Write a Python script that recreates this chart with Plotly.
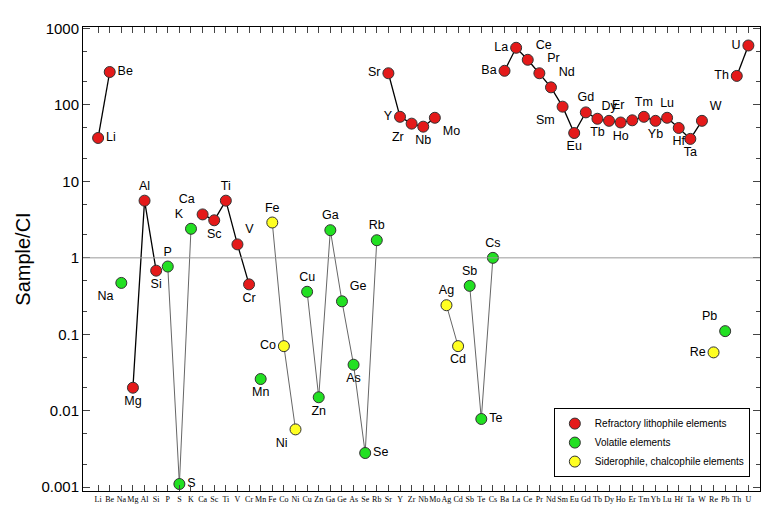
import plotly.graph_objects as go

elements = ["Li","Be","Na","Mg","Al","Si","P","S","K","Ca","Sc","Ti","V","Cr","Mn","Fe","Co","Ni","Cu","Zn",
            "Ga","Ge","As","Se","Rb","Sr","Y","Zr","Nb","Mo","Ag","Cd","Sb","Te","Cs","Ba","La","Ce","Pr","Nd",
            "Sm","Eu","Gd","Tb","Dy","Ho","Er","Tm","Yb","Lu","Hf","Ta","W","Re","Pb","Th","U"]
values = [37,270,0.47,0.02,5.6,0.68,0.77,0.0011,2.4,3.7,3.1,5.6,1.5,0.45,0.026,2.9,0.07,0.0057,0.36,0.015,
          2.3,0.27,0.04,0.0028,1.7,260,70,57,52,68,0.24,0.07,0.43,0.0078,1.0,280,560,390,260,170,
          95,43,80,66,62,59,63,70,62,68,50,36,62,0.058,0.11,240,600]
groups = ["R","R","V","R","R","R","V","V","V","R","R","R","R","R","V","S","S","S","V","V",
          "V","V","V","V","V","R","R","R","R","R","S","S","V","V","V","R","R","R","R","R",
          "R","R","R","R","R","R","R","R","R","R","R","R","R","S","V","R","R"]
red_chains = [["Li","Be"],["Mg","Al","Si"],["Ca","Sc","Ti","V","Cr"],["Sr","Y","Zr","Nb","Mo"],
              ["Ba","La","Ce","Pr","Nd","Sm","Eu","Gd","Tb","Dy","Ho","Er","Tm","Yb","Lu","Hf","Ta","W"],["Th","U"]]
gray_chains = [["P","S","K"],["Fe","Co","Ni"],["Cu","Zn","Ga","Ge","As","Se","Rb"],["Ag","Cd"],["Sb","Te","Cs"]]
label_pos = {"Li":"middle right","Be":"middle right","Na":"bottom left","Mg":"bottom center","Al":"top center",
 "Si":"bottom center","P":"top center","S":"middle right","K":"top left","Ca":"top left","Sc":"bottom center",
 "Ti":"top center","V":"top right","Cr":"bottom center","Mn":"bottom center","Fe":"top center","Co":"middle left",
 "Ni":"bottom left","Cu":"top center","Zn":"bottom center","Ga":"top center","Ge":"top right","As":"bottom center",
 "Se":"middle right","Rb":"top center","Sr":"middle left","Y":"middle left","Zr":"bottom left","Nb":"bottom center",
 "Mo":"bottom right","Ag":"top center","Cd":"bottom center","Sb":"top center","Te":"middle right","Cs":"top center",
 "Ba":"middle left","La":"middle left","Ce":"top right","Pr":"top right","Nd":"top right","Sm":"bottom left",
 "Eu":"bottom center","Gd":"top center","Tb":"bottom center","Dy":"top center","Ho":"bottom center","Er":"top left",
 "Tm":"top center","Yb":"bottom center","Lu":"top center","Hf":"bottom center","Ta":"bottom center","W":"top right",
 "Re":"middle left","Pb":"top left","Th":"middle left","U":"middle left"}

idx = {e: i for i, e in enumerate(elements)}
fig = go.Figure()
for chains, col, w in [(gray_chains, "#666666", 1), (red_chains, "black", 1.3)]:
    for ch in chains:
        fig.add_trace(go.Scatter(x=[idx[e] for e in ch], y=[values[idx[e]] for e in ch], mode="lines",
                                 line=dict(color=col, width=w), showlegend=False, hoverinfo="skip"))
names = {"R": ("Refractory lithophile elements", "#e41a1a"),
         "V": ("Volatile elements", "#22e022"),
         "S": ("Siderophile, chalcophile elements", "#ffff22")}
for g, (nm, col) in names.items():
    sel = [i for i, gg in enumerate(groups) if gg == g]
    fig.add_trace(go.Scatter(x=sel, y=[values[i] for i in sel], mode="markers+text", cliponaxis=False,
                             text=[elements[i] for i in sel], textposition=[label_pos[elements[i]] for i in sel],
                             textfont=dict(size=12.5, color="black", family="Arial"),
                             marker=dict(size=11, color=col, line=dict(color="#333333", width=1)), name=nm))
fig.add_hline(y=1, line=dict(color="#999999", width=1))
fig.update_layout(width=780, height=514, margin=dict(l=75, r=28, t=12, b=31), plot_bgcolor="white",
                  paper_bgcolor="white", font=dict(family="Arial", color="black"),
                  legend=dict(x=0.985, y=0.03, xanchor="right", yanchor="bottom", bordercolor="black",
                              borderwidth=1, font=dict(size=10), bgcolor="white", tracegroupgap=0))
fig.update_xaxes(range=[-1.3, 57], tickmode="array", tickvals=list(range(len(elements))), ticktext=elements,
                 tickfont=dict(size=8, family="Liberation Serif"), showline=True, mirror="ticks", linecolor="black",
                 ticks="inside", ticklen=6, showgrid=False, tickangle=0)
fig.update_yaxes(type="log", range=[-3.05, 3.02], tickvals=[0.001, 0.01, 0.1, 1, 10, 100, 1000],
                 ticktext=["0.001", "0.01", "0.1", "1", "10", "100", "1000"], tickfont=dict(size=15),
                 title=dict(text="Sample/CI", font=dict(size=20), standoff=5), showline=True, mirror="ticks",
                 linecolor="black", ticks="inside", ticklen=7, showgrid=False, minor=dict(ticks="inside", ticklen=4))
fig.write_html("out.html")
